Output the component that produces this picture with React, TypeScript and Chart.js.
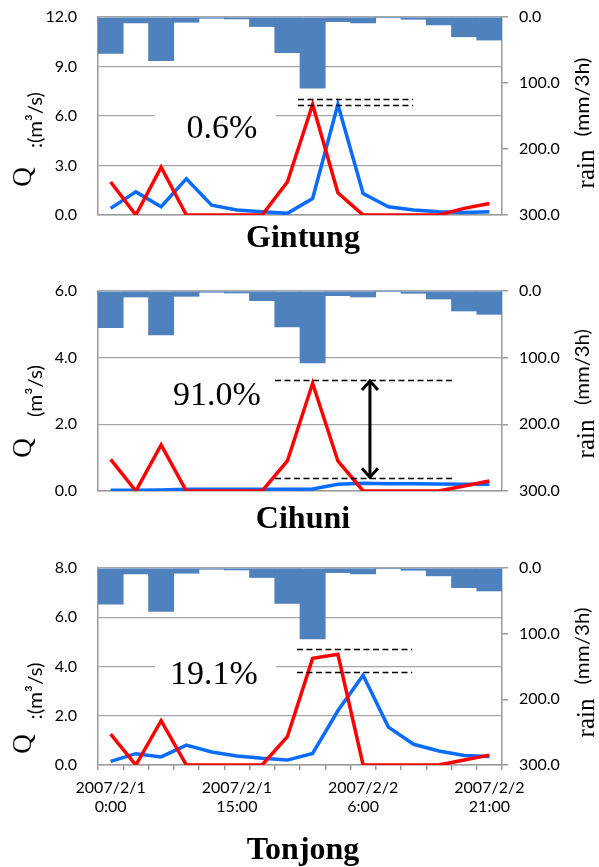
import React, { useEffect, useRef } from 'react';
import { Chart, registerables } from 'chart.js';
Chart.register(...registerables);

// ---------------- data ----------------
const categories = [
  '2007/2/1 0:00', '2007/2/1 3:00', '2007/2/1 6:00', '2007/2/1 9:00',
  '2007/2/1 12:00', '2007/2/1 15:00', '2007/2/1 18:00', '2007/2/1 21:00',
  '2007/2/2 0:00', '2007/2/2 3:00', '2007/2/2 6:00', '2007/2/2 9:00',
  '2007/2/2 12:00', '2007/2/2 15:00', '2007/2/2 18:00', '2007/2/2 21:00',
];
const labeledIndices = [0, 5, 10, 15];
const rain = [55, 9, 66, 8, 2, 3, 14.5, 54, 108, 7, 9, 1, 3.5, 12, 30, 35];

const gintungRed = [2.0, 0, 2.9, 0, 0, 0, 0, 2.0, 6.7, 1.35, 0, 0, 0, 0, 0.4, 0.7];
const gintungBlue = [0.4, 1.4, 0.5, 2.2, 0.6, 0.3, 0.2, 0.1, 1.0, 6.7, 1.3, 0.5, 0.3, 0.2, 0.15, 0.2];
const cihuniRed = [0.95, 0, 1.38, 0, 0, 0, 0, 0.9, 3.23, 0.9, 0, 0, 0, 0, 0.15, 0.3];
const cihuniBlue = [0.02, 0.02, 0.03, 0.05, 0.05, 0.05, 0.05, 0.05, 0.06, 0.2, 0.23, 0.22, 0.22, 0.21, 0.2, 0.2];
const tonjongRed = [1.25, 0, 1.8, 0, 0, 0, 0, 1.15, 4.33, 4.5, 0, 0, 0, 0, 0.2, 0.4];
const tonjongBlue = [0.15, 0.46, 0.33, 0.81, 0.53, 0.37, 0.27, 0.2, 0.47, 2.2, 3.65, 1.54, 0.84, 0.57, 0.39, 0.35];

const gintungDashLevels = [7.05, 6.68];
const cihuniDashLevels = [3.33, 0.38];
const tonjongDashLevels = [4.72, 3.78];
const stationNames = ['Gintung', 'Cihuni', 'Tonjong'];
const reductionLabels = ['0.6%', '91.0%', '19.1%'];

// ---------------- styles / layout ----------------
const W = 599;
const BAR = '#4F81BD';
const RED = '#FF0000';
const BLUE = '#0A6CFF';
const GRID = '#A6A6A6';
const AXIS = '#9A9A9A';
const SANS = 'Lato';
const SERIF = '"Liberation Serif", "Times New Roman", serif';

type Panel = {
  top: number; height: number; padTop: number; xHeight: number; showX: boolean;
  qMax: number; qStep: number; red: number[]; blue: number[]; dash: number[];
  dashFrom: number; dashTo: number; arrowAt: number | null;
  name: string; titleBase: number; pct: string; pctX: number; pctBase: number; mask: boolean;
  qY: number; unitY: number; unit: string; unitLen: number; rainY: number; mmY: number; mmLen: number;
};

const panels: Panel[] = [
  {
    top: 0, height: 265, padTop: 17, xHeight: 50, showX: false, qMax: 12, qStep: 3,
    red: gintungRed, blue: gintungBlue, dash: gintungDashLevels, dashFrom: 7.42, dashTo: 11.98, arrowAt: null,
    name: stationNames[0], titleBase: 247, pct: reductionLabels[0], pctX: 222, pctBase: 138, mask: true,
    qY: 177, unitY: 120, unit: ':(m³/s)', unitLen: 56, rainY: 169, mmY: 97, mmLen: 79,
  },
  {
    top: 265, height: 275, padTop: 26, xHeight: 49, showX: false, qMax: 6, qStep: 2,
    red: cihuniRed, blue: cihuniBlue, dash: cihuniDashLevels, dashFrom: 6.51, dashTo: 13.52, arrowAt: 10.27,
    name: stationNames[1], titleBase: 528, pct: reductionLabels[1], pctX: 217, pctBase: 405, mask: false,
    qY: 448, unitY: 391, unit: '(m³/s)', unitLen: 52, rainY: 439, mmY: 367, mmLen: 76,
  },
  {
    top: 540, height: 327, padTop: 28, xHeight: 102, showX: true, qMax: 8, qStep: 2,
    red: tonjongRed, blue: tonjongBlue, dash: tonjongDashLevels, dashFrom: 7.38, dashTo: 11.94, arrowAt: null,
    name: stationNames[2], titleBase: 859, pct: reductionLabels[2], pctX: 214, pctBase: 684, mask: true,
    qY: 744, unitY: 691, unit: ':(m³/s)', unitLen: 57, rainY: 718, mmY: 646, mmLen: 77,
  },
];

function rotText(ctx: CanvasRenderingContext2D, text: string, font: string, bx: number, cy: number, targetLen = 0) {
  ctx.save();
  ctx.font = font;
  const w = ctx.measureText(text).width;
  const stretch = targetLen > 0 && w > 0 ? targetLen / w : 1;
  ctx.translate(bx, cy);
  ctx.rotate(-Math.PI / 2);
  ctx.scale(stretch, 1);
  ctx.fillStyle = '#000';
  ctx.textAlign = 'center';
  ctx.textBaseline = 'alphabetic';
  ctx.fillText(text, 0, 0);
  ctx.restore();
}

const noPad = (s: any) => {
  s.paddingTop = 0;
  s.paddingBottom = 0;
  s.paddingLeft = 0;
  s.paddingRight = 0;
};

function makeConfig(p: Panel): any {
  const idxPx = (chart: any, idx: number) => {
    const xs = chart.scales.x;
    const x0 = xs.getPixelForValue(0);
    const step = xs.getPixelForValue(1) - x0;
    return x0 + idx * step;
  };
  const annot = {
    id: 'annot',
    beforeDatasetsDraw(chart: any) {
      if (!p.mask) return;
      const ctx = chart.ctx;
      ctx.save();
      ctx.fillStyle = '#fff';
      ctx.fillRect(155, p.pctBase - p.top - 32, 121, 42);
      ctx.restore();
    },
    afterDatasetsDraw(chart: any) {
      const ctx = chart.ctx;
      const q = chart.scales.q;
      const xa = idxPx(chart, p.dashFrom);
      const xb = idxPx(chart, p.dashTo);
      ctx.save();
      ctx.strokeStyle = '#000';
      ctx.lineWidth = 1.5;
      ctx.setLineDash([6, 3.5]);
      p.dash.forEach((lv) => {
        const y = Math.round(q.getPixelForValue(lv)) + 0.5;
        ctx.beginPath();
        ctx.moveTo(xa, y);
        ctx.lineTo(xb, y);
        ctx.stroke();
      });
      ctx.setLineDash([]);
      if (p.arrowAt !== null) {
        const ax = idxPx(chart, p.arrowAt);
        const y1 = q.getPixelForValue(p.dash[0]) + 1;
        const y2 = q.getPixelForValue(p.dash[1]) - 1;
        ctx.lineWidth = 3;
        ctx.lineJoin = 'miter';
        ctx.beginPath();
        ctx.moveTo(ax, y1 + 1);
        ctx.lineTo(ax, y2 - 1);
        ctx.stroke();
        ctx.beginPath();
        ctx.moveTo(ax - 8, y1 + 9);
        ctx.lineTo(ax, y1);
        ctx.lineTo(ax + 8, y1 + 9);
        ctx.stroke();
        ctx.beginPath();
        ctx.moveTo(ax - 8, y2 - 9);
        ctx.lineTo(ax, y2);
        ctx.lineTo(ax + 8, y2 - 9);
        ctx.stroke();
      }
      ctx.font = `34px ${SERIF}`;
      ctx.fillStyle = '#000';
      ctx.textAlign = 'center';
      ctx.textBaseline = 'alphabetic';
      ctx.fillText(p.pct, p.pctX, p.pctBase - p.top);
      ctx.restore();
    },
    afterDraw(chart: any) {
      const ctx = chart.ctx;
      ctx.save();
      ctx.font = `bold 32px ${SERIF}`;
      ctx.fillStyle = '#000';
      ctx.textAlign = 'center';
      ctx.textBaseline = 'alphabetic';
      ctx.fillText(p.name, 303, p.titleBase - p.top);
      ctx.restore();
      rotText(ctx, 'Q', `27px ${SERIF}`, 31, p.qY - p.top);
      rotText(ctx, p.unit, `20px ${SANS}`, 42, p.unitY - p.top, p.unitLen);
      rotText(ctx, 'rain', `25px ${SERIF}`, 594, p.rainY - p.top);
      rotText(ctx, '(mm/3h)', `20px ${SANS}`, 589, p.mmY - p.top, p.mmLen);
    },
  };
  const tickFont = { family: SANS, size: 16 };
  return {
    type: 'bar',
    data: {
      labels: categories,
      datasets: [
        { type: 'line', data: p.red, yAxisID: 'q', borderColor: RED, borderWidth: 3.5, pointRadius: 0, tension: 0, order: 1 },
        { type: 'line', data: p.blue, yAxisID: 'q', borderColor: BLUE, borderWidth: 3.5, pointRadius: 0, tension: 0, order: 2 },
        { type: 'bar', data: rain, yAxisID: 'rain', backgroundColor: BAR, barPercentage: 1, categoryPercentage: 1, borderWidth: 0, order: 3 },
      ],
    },
    options: {
      responsive: false,
      animation: false,
      devicePixelRatio: 1,
      layout: { padding: { top: p.padTop, left: 0, right: 0, bottom: 0 } },
      plugins: { legend: { display: false }, tooltip: { enabled: false }, title: { display: false } },
      scales: {
        x: {
          type: 'category',
          offset: true,
          grid: { display: true, offset: true, drawOnChartArea: false, drawTicks: p.showX, tickLength: 5, color: AXIS, lineWidth: 1.5 },
          border: { display: true, color: AXIS, width: 1.5 },
          ticks: {
            display: p.showX, autoSkip: false, maxRotation: 0, minRotation: 0, padding: 9,
            font: { ...tickFont, lineHeight: 1.15 }, color: '#000',
            callback: (_v: any, i: number) => (labeledIndices.includes(i) ? categories[i].split(' ') : ''),
          },
          afterFit: (s: any) => { s.height = p.xHeight; noPad(s); },
        },
        q: {
          position: 'left', min: 0, max: p.qMax,
          ticks: { stepSize: p.qStep, padding: 21, font: tickFont, color: '#000', callback: (v: any) => Number(v).toFixed(1) },
          grid: { color: GRID, lineWidth: 1.3, drawTicks: false },
          border: { display: true, color: AXIS, width: 1.5 },
          afterFit: (s: any) => { s.width = 98; noPad(s); },
        },
        rain: {
          position: 'right', min: 0, max: 300, reverse: true,
          ticks: { stepSize: 100, padding: 11, font: tickFont, color: '#000', callback: (v: any) => Number(v).toFixed(1) },
          grid: { drawOnChartArea: false, drawTicks: true, tickLength: 6, color: AXIS, lineWidth: 1.5 },
          border: { display: true, color: AXIS, width: 1.5 },
          afterFit: (s: any) => { s.width = W - 502; noPad(s); },
        },
      },
    },
    plugins: [annot],
  };
}

function PanelChart({ p }: { p: Panel }) {
  const ref = useRef<HTMLCanvasElement | null>(null);
  useEffect(() => {
    if (!ref.current) return;
    const chart = new Chart(ref.current, makeConfig(p));
    return () => chart.destroy();
  }, [p]);
  return (
    <canvas
      ref={ref}
      width={W}
      height={p.height}
      style={{ position: 'absolute', left: 0, top: p.top, width: W, height: p.height, display: 'block' }}
    />
  );
}

export default function App() {
  return (
    <div style={{ position: 'absolute', left: 0, top: 0, width: W, height: 867, background: '#fff' }}>
      {panels.map((p) => (
        <PanelChart key={p.name} p={p} />
      ))}
    </div>
  );
}
